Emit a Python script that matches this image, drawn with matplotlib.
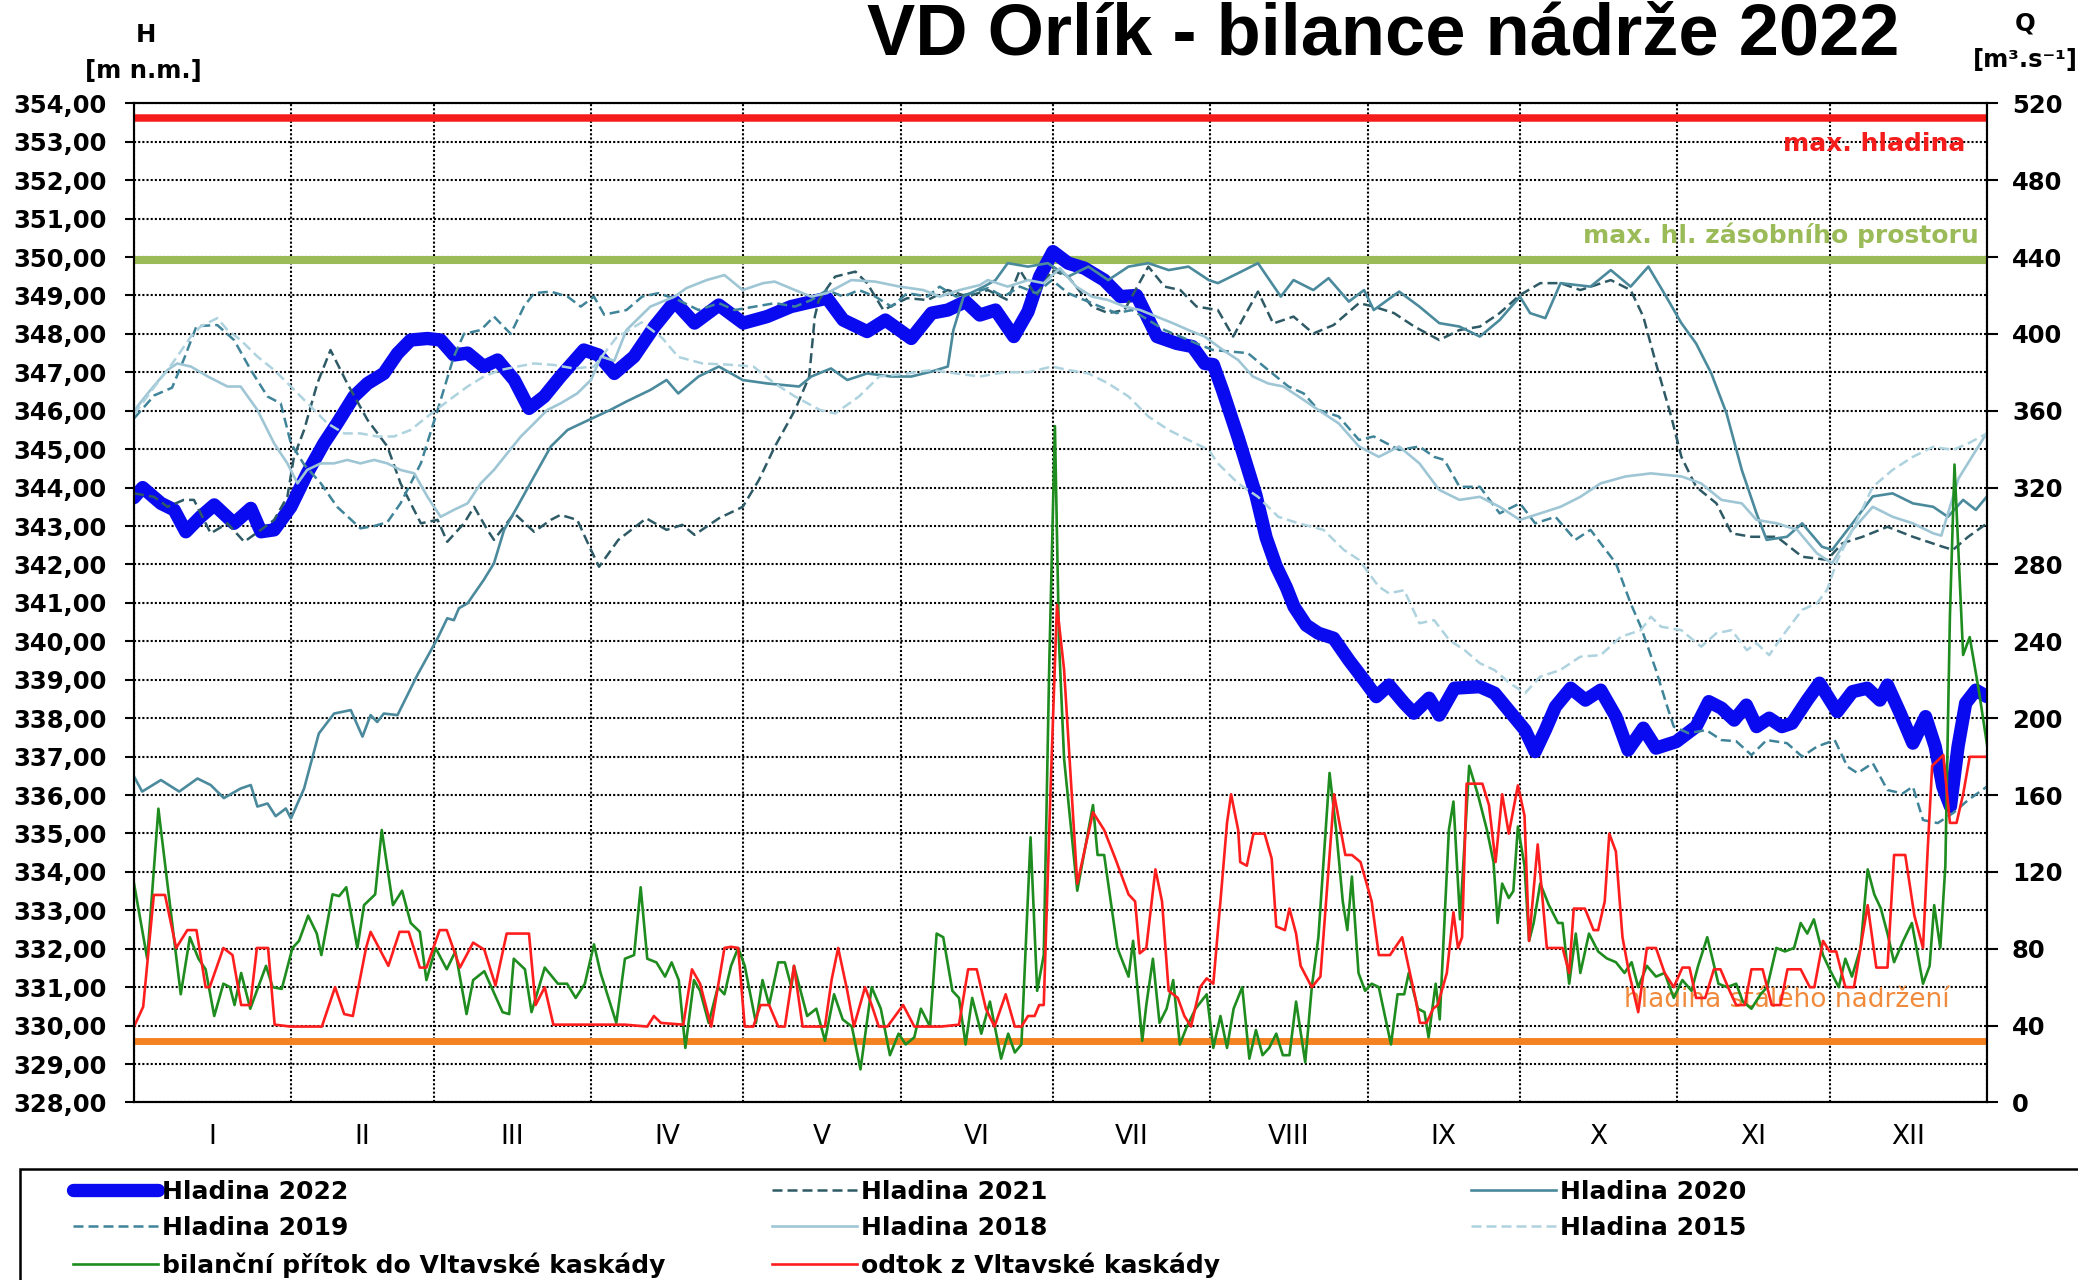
import numpy as np
import matplotlib
matplotlib.use("Agg")
import matplotlib.pyplot as plt
from matplotlib.lines import Line2D
from matplotlib.patches import Rectangle
from matplotlib.ticker import FuncFormatter

# month boundaries (day of year) and roman labels
MONTH_STARTS = [0, 31, 59, 90, 120, 151, 181, 212, 243, 273, 304, 334, 365]
MONTHS = ["I", "II", "III", "IV", "V", "VI", "VII", "VIII", "IX", "X", "XI", "XII"]

# reservoir limits [m n.m.]
MAX_HLADINA = 353.62
MAX_ZASOBNI = 349.93
STALE_NADRZENI = 329.59

# water level, (day of year, H [m n.m.])
H2022 = [(0, 343.74), (1.7, 344.0), (5.3, 343.59), (7.9, 343.42), (10.2, 342.85), (13.1, 343.24),
         (15.8, 343.55), (19.7, 343.07), (23, 343.46), (25, 342.85), (27.6, 342.9), (30.9, 343.5),
         (34.1, 344.37), (37.4, 345.15), (40, 345.67), (43.3, 346.37), (46, 346.71), (49.2, 346.97),
         (51.9, 347.49), (54.5, 347.84), (57.8, 347.88), (60.4, 347.84), (63, 347.45), (65.7, 347.5),
         (68.9, 347.15), (71.6, 347.32), (74.9, 346.8), (77.8, 346.06), (80.8, 346.37), (84, 346.89),
         (88.6, 347.58), (91.5, 347.45), (94.6, 346.97), (98.5, 347.41), (102.5, 348.19), (106.5, 348.84),
         (110.4, 348.28), (115.2, 348.75), (120, 348.28), (124.7, 348.45), (129.4, 348.71), (134.9, 348.88),
         (136.5, 348.93), (139.7, 348.36), (144.4, 348.06), (148, 348.36), (153.1, 347.88), (157.1, 348.54),
         (160.3, 348.62), (163.8, 348.84), (166.6, 348.49), (169.7, 348.62), (173.3, 347.93), (176.1, 348.58),
         (178.4, 349.49), (181, 350.14), (184, 349.84), (187.2, 349.71), (191.1, 349.4), (194.3, 348.97),
         (197.5, 349.0), (201.5, 347.93), (205.4, 347.75), (208.5, 347.67), (210.9, 347.23), (212.6, 347.2),
         (214.5, 346.5), (217.5, 345.3), (221, 343.8), (223, 342.7), (225, 341.95), (227, 341.4),
         (228.5, 340.9), (230.9, 340.42), (233.3, 340.21), (236.3, 340.08), (239.3, 339.51), (242.3, 338.99),
         (244.7, 338.56), (247.2, 338.86), (250.2, 338.39), (252.1, 338.13), (255.1, 338.52), (257.1, 338.08),
         (260.1, 338.78), (265.1, 338.82), (268, 338.65), (271, 338.17), (274, 337.69), (276, 337.13),
         (278, 337.69), (280, 338.3), (283, 338.78), (285.9, 338.47), (288.9, 338.73), (291.9, 338.04),
         (294.3, 337.17), (297.3, 337.74), (299.8, 337.22), (303.8, 337.39), (307.7, 337.78), (310.2, 338.43),
         (312.7, 338.26), (315.2, 337.95), (317.6, 338.34), (319.6, 337.78), (322.1, 338.0), (324.6, 337.78),
         (326.6, 337.87), (329.6, 338.47), (332, 338.91), (335.5, 338.17), (338.5, 338.69), (341.4, 338.78),
         (343.9, 338.47), (345.4, 338.86), (347.9, 338.13), (350.4, 337.35), (352.9, 338.04), (354.8, 337.26),
         (356.3, 336.22), (357.8, 335.7), (359.3, 337.26), (360.8, 338.39), (362.8, 338.73), (365, 338.56)]

H2021 = [(0, 343.85), (3.9, 343.76), (6.6, 343.5), (9.8, 343.68), (11.8, 343.68), (15.1, 342.81),
         (18.4, 343.07), (21.7, 342.59), (25, 342.9), (27.6, 343.16), (30.2, 343.76), (31.5, 344.8),
         (33.5, 345.5), (36.1, 346.71), (38.7, 347.58), (42, 346.71), (46, 345.76), (49.9, 345.07),
         (52.5, 344.11), (56.5, 343.07), (59.8, 343.16), (61.7, 342.59), (65, 343.07), (67, 343.5),
         (69.6, 342.9), (70.9, 342.64), (74.9, 343.33), (78.8, 342.85), (82.1, 343.16), (84, 343.29),
         (87.3, 343.16), (90, 342.38), (91.6, 341.94), (95.4, 342.64), (100.9, 343.2), (104.9, 342.9),
         (108, 343.03), (110.4, 342.77), (115.2, 343.2), (119.9, 343.5), (123.1, 344.2), (126.2, 345.06),
         (130.2, 346.02), (133, 346.89), (134.1, 348.45), (134.9, 348.88), (138.1, 349.49), (142.1, 349.62),
         (144.4, 349.32), (147.6, 348.62), (152.3, 348.93), (156.3, 348.88), (160.3, 349.14), (164.2, 348.97),
         (168.2, 349.14), (172.1, 348.88), (174.5, 349.66), (177.7, 348.97), (180.8, 349.66), (184, 349.49),
         (188.7, 348.71), (191.9, 348.54), (195.1, 348.62), (199.8, 349.75), (203, 349.23), (206.1, 349.14),
         (209.3, 348.71), (213.5, 348.62), (216.5, 347.93), (221.4, 349.1), (224.4, 348.27), (228.4, 348.45),
         (232.3, 348.01), (236.3, 348.23), (241.3, 348.8), (244.2, 348.71), (248.2, 348.54), (252.2, 348.19),
         (257.1, 347.84), (261.1, 348.1), (265.1, 348.19), (269, 348.54), (273, 349.01), (277, 349.32),
         (281, 349.32), (284.9, 349.14), (290.9, 349.4), (294.8, 349.14), (297.3, 348.45), (299.8, 347.23),
         (302.8, 345.85), (304.8, 344.8), (307.7, 344.02), (311.7, 343.59), (314.7, 342.81), (318.6, 342.72),
         (323.6, 342.72), (328.6, 342.2), (333.5, 342.12), (336.5, 342.55), (340.5, 342.72), (345.4, 342.98),
         (350.4, 342.72), (356.3, 342.46), (358.3, 342.38), (361.3, 342.72), (365, 343.07)]

H2020 = [(0, 336.48), (1.6, 336.09), (5.3, 336.39), (8.9, 336.09), (12.5, 336.43), (15.1, 336.26),
         (17.7, 335.92), (21, 336.17), (23, 336.26), (24.3, 335.7), (26.3, 335.78), (27.9, 335.45),
         (29.9, 335.65), (30.9, 335.39), (33.5, 336.17), (36.4, 337.6), (39.4, 338.12), (42.7, 338.21),
         (45, 337.52), (46.6, 338.08), (47.9, 337.9), (49.2, 338.12), (51.9, 338.08), (55.8, 339.12),
         (59.8, 340.08), (61.7, 340.6), (63, 340.55), (64, 340.86), (65.7, 340.99), (68.9, 341.6),
         (70.9, 342.03), (72.9, 342.9), (75.5, 343.5), (78.8, 344.29), (82.1, 345.07), (85.4, 345.5),
         (88.6, 345.7), (93.8, 346.02), (97, 346.24), (101.7, 346.54), (104.9, 346.8), (107.2, 346.45),
         (111.2, 346.89), (115.2, 347.15), (119.9, 346.8), (124.7, 346.71), (131, 346.63), (133.4, 346.89),
         (137.3, 347.1), (140.5, 346.8), (144.4, 346.97), (149.2, 346.89), (153.1, 346.89), (157.1, 347.02),
         (160.3, 347.15), (161.4, 348.1), (163.4, 348.97), (167.4, 349.23), (169.7, 349.4), (172.1, 349.84),
         (176.1, 349.75), (180, 349.84), (184, 349.49), (188, 349.75), (191.9, 349.4), (195.9, 349.75),
         (199.8, 349.84), (203.8, 349.66), (207.7, 349.75), (211.7, 349.4), (213.5, 349.32), (217.5, 349.58),
         (221.4, 349.84), (225.9, 348.97), (228.4, 349.4), (232.3, 349.14), (235.3, 349.45), (239.3, 348.84),
         (242.3, 349.14), (244.2, 348.62), (249.2, 349.1), (253.2, 348.71), (257.1, 348.28), (261.1, 348.19),
         (265.1, 347.93), (269, 348.36), (273, 348.97), (275, 348.54), (278, 348.41), (281, 349.32),
         (286.9, 349.23), (290.9, 349.66), (294.8, 349.23), (298.3, 349.75), (301.8, 348.97), (304.8, 348.28),
         (307.7, 347.75), (310.7, 346.97), (313.7, 345.93), (316.7, 344.46), (319.6, 343.33), (321.6, 342.64),
         (325.6, 342.72), (328.6, 343.07), (332.5, 342.46), (334.5, 342.38), (338.5, 343.07), (342.5, 343.77),
         (346.4, 343.85), (350.4, 343.59), (354.4, 343.5), (357.3, 343.24), (360.3, 343.68), (362.8, 343.42),
         (365, 343.77)]

H2019 = [(0, 345.8), (4, 346.4), (7.5, 346.6), (10, 347.4), (12.3, 348.2), (16.4, 348.23),
         (19.7, 347.84), (23, 347.06), (26.3, 346.37), (28.9, 346.19), (30.9, 345.15), (33.5, 344.6),
         (36.8, 344.11), (40, 343.5), (44.6, 342.94), (47.3, 343.0), (49.9, 343.1), (52.5, 343.59),
         (56.5, 344.63), (59.8, 346.02), (63, 347.41), (65, 348.0), (68.3, 348.1), (70.9, 348.45),
         (74.2, 348.0), (76.8, 348.71), (78.8, 349.06), (82.1, 349.1), (85.4, 348.97), (88, 348.71),
         (90.6, 348.97), (92.6, 348.5), (97, 348.62), (100.1, 348.97), (103.3, 349.06), (107.2, 348.88),
         (111.2, 348.62), (115.2, 348.8), (118.3, 348.62), (122.3, 348.71), (126.3, 348.8), (130.2, 348.71),
         (133.4, 348.88), (136.5, 349.14), (139.7, 348.97), (142.8, 349.14), (146, 348.97), (149.2, 348.71),
         (152.3, 349.06), (156.3, 348.97), (158.7, 349.23), (161.9, 348.97), (165, 349.06), (168.2, 349.19),
         (171.3, 348.97), (174.5, 349.23), (177.7, 349.06), (180.8, 349.4), (184, 349.06), (187.2, 348.88),
         (190.3, 348.71), (193.5, 348.54), (196.6, 348.62), (199.8, 348.36), (203, 348.1), (206.1, 347.93),
         (209.3, 347.75), (212.5, 347.58), (219.4, 347.5), (223.4, 347.06), (227.4, 346.63), (230.4, 346.45),
         (233.3, 346.02), (237.3, 345.85), (241.3, 345.24), (244.2, 345.33), (249.2, 344.98), (253.2, 345.07),
         (256.1, 344.8), (258.1, 344.72), (261.1, 344.02), (265.1, 344.02), (269, 343.33), (273, 343.59),
         (276, 343.07), (280, 343.24), (283.9, 342.64), (286.9, 342.9), (291.9, 342.03), (294.8, 340.99),
         (296.8, 340.38), (299.8, 339.25), (301.8, 338.39), (303.3, 337.78), (306.2, 337.61), (309.7, 337.69),
         (312.7, 337.43), (315.6, 337.4), (318.6, 337.04), (321.6, 337.43), (325.6, 337.35), (328.6, 337.0),
         (331.5, 337.26), (335, 337.43), (337.5, 336.74), (339.5, 336.57), (342.5, 336.83), (345.4, 336.13),
         (348.4, 336.04), (350.4, 336.22), (352.4, 335.35), (355.3, 335.27), (358.3, 335.53), (361.3, 335.87),
         (365, 336.22)]

H2018 = [(0, 346.0), (3, 346.5), (6.6, 347.06), (8.5, 347.23), (11.2, 347.15), (14.4, 346.9),
         (18.4, 346.63), (21, 346.63), (24.3, 346.02), (27.6, 345.15), (30.2, 344.63), (32.2, 344.11),
         (34.1, 344.46), (36.8, 344.63), (39.4, 344.63), (42, 344.72), (44.6, 344.63), (47.3, 344.72),
         (49.9, 344.63), (52.5, 344.46), (55.2, 344.37), (57.8, 343.76), (60.4, 343.24), (63, 343.42),
         (65.7, 343.59), (68.3, 344.11), (70.9, 344.46), (73.5, 344.89), (76.2, 345.33), (78.8, 345.67),
         (81.4, 346.02), (84, 346.19), (87.3, 346.45), (90, 346.8), (92, 347.41), (94.6, 347.3),
         (97, 348.1), (101.7, 348.71), (106.5, 348.97), (108.8, 349.19), (112.8, 349.4), (116.3, 349.53),
         (119.9, 349.14), (123.9, 349.32), (126.2, 349.36), (130.2, 349.14), (133.4, 348.97), (136.5, 349.06),
         (141.3, 349.4), (146, 349.36), (150.8, 349.23), (155.5, 349.14), (158.7, 348.97), (162.6, 349.14),
         (166.6, 349.27), (168.2, 349.4), (172.1, 349.23), (176.1, 349.4), (179.2, 349.32), (182.4, 349.71),
         (185.6, 349.23), (188.7, 348.97), (191.9, 348.88), (195.1, 348.71), (198.2, 348.62), (201.4, 348.45),
         (204.6, 348.28), (207.7, 348.1), (210.9, 347.93), (214.5, 347.58), (217.5, 347.32), (220.4, 346.89),
         (223.4, 346.71), (226.4, 346.63), (229.4, 346.37), (233.3, 346.02), (237.3, 345.67), (241.3, 345.07),
         (245.2, 344.8), (249.2, 345.07), (253.2, 344.63), (257.1, 343.94), (261.1, 343.68), (265.1, 343.76),
         (269, 343.5), (273, 343.16), (277, 343.33), (281, 343.5), (284.9, 343.76), (288.9, 344.11),
         (293.8, 344.29), (298.8, 344.37), (304.8, 344.29), (308.7, 344.11), (312.7, 343.68), (316.7, 343.59),
         (319.6, 343.16), (323.6, 343.07), (327.6, 342.9), (331.5, 342.29), (334.5, 342.03), (338.5, 342.9),
         (342.5, 343.5), (346.4, 343.24), (350.4, 343.07), (354.4, 342.81), (356, 342.75), (359.4, 344.24),
         (365, 345.43)]

H2015 = [(0, 345.9), (3.9, 346.6), (6.6, 347.06), (8.5, 347.41), (11.2, 347.93), (13.1, 348.19),
         (16.4, 348.41), (18.4, 348.1), (21, 347.84), (24.3, 347.41), (27.6, 347.06), (30.9, 346.63),
         (34.8, 346.11), (38.1, 345.67), (41.4, 345.41), (44.6, 345.41), (47.9, 345.33), (51.2, 345.33),
         (54.5, 345.5), (57.8, 345.85), (60.4, 346.11), (63, 346.37), (65.7, 346.63), (68.9, 346.89),
         (72.2, 347.06), (75.5, 347.15), (78.8, 347.23), (82.7, 347.19), (86.7, 347.1), (90.6, 347.15),
         (95, 347.9), (100, 348.3), (104, 347.9), (107.2, 347.4), (112, 347.23), (117, 347.2),
         (122, 347.15), (126.2, 346.71), (130.2, 346.37), (135.1, 346.02), (138.1, 345.93), (142.8, 346.37),
         (146.8, 346.89), (152.3, 346.97), (157.1, 347.06), (161.9, 346.97), (166.6, 346.89), (171.3, 347.0),
         (176.1, 347.0), (180.8, 347.15), (184, 347.06), (188, 346.97), (191.9, 346.71), (195.9, 346.37),
         (199.8, 345.85), (203.8, 345.5), (207.7, 345.24), (211.7, 344.98), (213.5, 344.63), (217.5, 344.11),
         (221.4, 343.76), (225.4, 343.24), (229.4, 343.07), (234.3, 342.9), (238.3, 342.38), (241.3, 342.12),
         (245.2, 341.42), (247.2, 341.25), (250.2, 341.33), (253.2, 340.47), (256.1, 340.55), (259.1, 340.03),
         (262.1, 339.77), (265.1, 339.43), (268, 339.25), (271, 338.91), (274, 338.65), (277, 339.08),
         (280.9, 339.25), (284.9, 339.6), (288.9, 339.64), (292.9, 340.12), (296.8, 340.29), (298.8, 340.64),
         (300.8, 340.38), (304.8, 340.29), (308.7, 339.86), (311.7, 340.21), (314.7, 340.29), (317.7, 339.77),
         (319.6, 339.95), (322.1, 339.64), (324.6, 340.12), (328.6, 340.82), (331.5, 340.99), (333.5, 341.34),
         (335.5, 342.1), (338.5, 342.9), (342.5, 344.02), (346.4, 344.46), (350.4, 344.8), (354.4, 345.06),
         (358.3, 344.98), (361.3, 345.15), (365, 345.41)]

# flows, (day of year, Q [m3/s])
PRITOK = [(0, 113.9), (2.6, 74.8), (4.8, 152.9), (7, 104.6), (9.2, 56.3), (11, 86), (12.7, 74.8),
          (14.1, 69.3), (15.8, 45), (17.6, 61.8), (18.9, 60), (19.8, 50.7), (21.1, 67.4), (22.9, 48.8),
          (26, 71.1), (27.3, 60), (29.1, 59.1), (31.2, 80.4), (32.5, 84.1), (34.3, 97.2), (36, 87.9),
          (36.9, 76.7), (39.1, 108.3), (40.4, 107.4), (41.8, 112), (44, 80.4), (45.3, 102.7), (47.5, 108.3),
          (48.8, 141.8), (51, 102.7), (52.8, 110.2), (54.5, 93.4), (56.3, 88.8), (57.6, 63.7), (59.4, 80.4),
          (61.6, 69.3), (63.3, 78.6), (65.5, 46), (66.8, 63.7), (69, 68.3), (70.4, 60), (72.6, 47),
          (73.9, 46), (74.8, 74.8), (77, 69.3), (78.3, 47), (80.9, 70.2), (83.5, 61.8), (85.3, 61.8),
          (87, 54.4), (88.8, 61.8), (90.6, 82.3), (91.9, 67.4), (95, 41.4), (96.7, 74.8), (98.5, 76.7),
          (99.8, 112), (101.1, 74.8), (102.9, 72.9), (104.6, 65.5), (105.9, 72.9), (107.3, 63.7),
          (108.6, 28.4), (110.3, 63.7), (111.5, 58.1), (113.2, 41.4), (115, 60), (116.3, 56.3),
          (117.6, 71.1), (119, 80.4), (120.3, 71.1), (122.5, 41.4), (123.8, 63.7), (125.1, 50.7),
          (126.9, 72.9), (128.2, 72.9), (129.5, 60), (130, 71.1), (131.3, 58.1), (132.6, 45), (134.4, 48.8),
          (136.1, 32.1), (137.9, 56.3), (139.6, 43.2), (141.4, 39.5), (143.1, 17.2), (145.3, 60),
          (147.1, 48.8), (148.9, 24.6), (150.6, 35.8), (152, 30.2), (153.7, 33.9), (155, 48.8),
          (156.8, 39.5), (158.1, 87.9), (159.4, 86), (161.2, 58.1), (162.5, 54.4), (163.8, 30.2),
          (165.1, 54.4), (166.9, 35.8), (168.6, 52.5), (170.8, 22.8), (172.2, 35.8), (173.5, 26),
          (174.8, 30.2), (176.6, 138), (177.9, 58.1), (179.2, 76.7), (180.3, 230), (181.4, 352),
          (182.2, 240), (183.2, 179), (185.8, 110.2), (188.9, 154.8), (189.8, 128.8), (191.1, 128.8),
          (193.7, 80.4), (195.9, 65.5), (196.8, 84.1), (198.6, 32.1), (199.4, 50.7), (200.7, 74.8),
          (202, 41.4), (203.4, 48.8), (204.7, 63.7), (206, 30.2), (207.4, 39.5), (209.1, 48.8),
          (211.3, 56.3), (212.6, 28.4), (214, 45), (215.3, 28.4), (216.6, 48.8), (218.3, 60),
          (219.7, 22.8), (221, 37.7), (222.3, 24.6), (223.6, 28.4), (225, 35.8), (226.3, 24.6),
          (227.6, 24.6), (228.9, 52.5), (230.7, 20.9), (232, 60), (233.3, 86), (235.5, 171.5),
          (236.8, 141.8), (238.1, 104.6), (239, 89.7), (239.9, 117.6), (241.2, 67.4), (242.5, 58.1),
          (243.8, 61.8), (245.2, 60), (247.6, 30.2), (248.9, 56.3), (250.2, 56.3), (251.1, 67.4),
          (252.9, 48.8), (254.2, 47), (255, 33.9), (256.4, 61.8), (257.2, 43.2), (259, 141.8),
          (259.9, 156.6), (261.2, 95.3), (263, 175.2), (264.7, 160.4), (266.5, 141.8), (267.8, 125.1),
          (268.6, 93.4), (269.5, 113.9), (270.8, 106.4), (271.7, 110), (272.6, 143.6), (273.9, 123.2),
          (274.8, 84.1), (275.7, 93.4), (277, 113.9), (278.7, 102.7), (280.5, 93.4), (281.4, 93.4),
          (282.7, 61.8), (284, 87.9), (284.9, 67.4), (286.6, 87.9), (288.4, 78.6), (290.1, 75),
          (291.9, 73), (293.6, 67.4), (295, 73), (296.3, 60), (298, 71.1), (299.8, 65.5), (301.5, 67.4),
          (303.3, 54.4), (305, 63.7), (306.8, 58.1), (308.1, 71.1), (309.9, 86), (312.1, 61.8),
          (313.8, 60), (315.6, 61.8), (316.9, 52.5), (318.6, 48.8), (320.4, 56.3), (321.7, 60),
          (323.5, 80.4), (325.2, 78.6), (327, 80.4), (328.3, 93.4), (329.6, 87.9), (330.9, 95.3),
          (332.7, 76.7), (334, 69.3), (335.8, 60), (337.1, 74.8), (338.4, 65.5), (340.1, 80.4),
          (341.5, 121.3), (342.8, 108.3), (344.1, 100.9), (345.4, 87.9), (346.7, 73), (348.5, 84.1),
          (350.2, 93.4), (352.4, 61.8), (353.7, 71.1), (354.6, 102.7), (355.8, 80.4), (356.8, 123.2),
          (357.7, 253.3), (358.6, 332), (360.3, 232.9), (361.6, 242.2), (363.4, 214.3), (365, 186.4)]

ODTOK = [(0, 39.5), (1.8, 49.8), (3.9, 108), (6.1, 108), (8.3, 80.4), (10.5, 89.7), (12.3, 89.7),
         (14.1, 60), (14.9, 60), (17.6, 80.4), (19.4, 76.7), (21.1, 50.7), (22.9, 50.7), (24.2, 80.4),
         (26.4, 80.4), (27.7, 40.5), (30.8, 39.5), (37, 39.5), (39.6, 60), (41.4, 46), (43.1, 45),
         (45.7, 80.4), (46.6, 88.8), (50.1, 71.1), (52.3, 88.8), (54.1, 88.8), (56.3, 70.2), (57.6, 70.2),
         (60.2, 89.7), (61.6, 89.7), (64.2, 70.2), (66.8, 83.2), (69, 79.5), (71.2, 60.9), (73.4, 87.9),
         (77.8, 87.9), (79.1, 50.7), (80.9, 60), (82.6, 40.5), (87.9, 40.5), (96.7, 40.5), (101.1, 39.5),
         (102.4, 45), (103.8, 41.4), (108.2, 40.5), (109.9, 69.3), (111.5, 61.8), (113.7, 39.5),
         (115, 60), (116.3, 80.4), (117.6, 81), (119, 80.4), (120.3, 39.5), (122, 39.5), (123.4, 50.7),
         (125.1, 50.7), (126.9, 39.5), (128.2, 39.5), (130, 71.1), (131.7, 39.5), (136.1, 39.5),
         (137.4, 63.7), (138.7, 80.4), (140.5, 58.1), (141.8, 39.5), (144, 60), (145.3, 50.7),
         (146.7, 39.5), (148.4, 39.5), (151.5, 50.7), (153.7, 39.5), (159, 39.5), (162.5, 40.5),
         (164.3, 69.3), (166, 69.3), (167.8, 48.8), (169.5, 39.5), (171.7, 56.3), (173.5, 39.5),
         (174.8, 39.5), (176.1, 45), (177.4, 45), (178.3, 50.7), (179.2, 50.7), (180.5, 160),
         (181.8, 258.9), (183.2, 225.4), (185.8, 113.9), (188.9, 151), (191.1, 141.8), (193.3, 126.9),
         (195.9, 108.3), (197.2, 104.6), (198.1, 77.6), (199.4, 80.4), (201.2, 121.3), (202.5, 104.6),
         (203.8, 58.1), (205.6, 54.4), (206.9, 45), (208.2, 39.5), (210, 60), (211.3, 64.6),
         (212.6, 61.8), (214, 104.6), (215.3, 145.5), (216.1, 160.4), (217.5, 141.8), (217.9, 125.1),
         (219.2, 123.2), (220.5, 139.9), (222.7, 139.9), (224.1, 126.9), (225, 91.6), (226.7, 89.7),
         (227.6, 100.9), (228.9, 87.9), (229.8, 71.1), (232, 60), (233.7, 65.5), (236.4, 160.4),
         (238.6, 128.8), (239.9, 128.8), (241.6, 125.1), (243.8, 104.6), (245.2, 76.7), (247.4, 76.7),
         (249.8, 86), (250.7, 75), (252.4, 54.4), (253.3, 41.4), (254.6, 41.4), (255.9, 48.8),
         (256.8, 50.7), (258.6, 67.4), (259.9, 99), (260.8, 80.4), (261.6, 86), (262.5, 165.9),
         (265.6, 165.9), (266.9, 154.8), (268.2, 125.1), (269.5, 160.4), (270.8, 139.9), (272.6, 165),
         (273.9, 149.2), (274.8, 84.1), (276.5, 134.3), (278.3, 80.4), (281.4, 80.4), (282.7, 67.4),
         (283.6, 100.9), (285.8, 100.9), (287.5, 89.7), (288.4, 89.7), (289.7, 104.6), (290.6, 139.9),
         (291.9, 130.6), (293.2, 86), (294.5, 67.4), (296.3, 47), (298, 80.4), (299.8, 80.4),
         (301.5, 67.4), (303.3, 60), (305, 70.2), (306.4, 70.2), (307.7, 54.4), (309.5, 54.4),
         (311.2, 69.3), (312.5, 69.3), (314.3, 58.1), (315.6, 50.7), (317.3, 50.7), (318.6, 69.3),
         (320.8, 69.3), (322.6, 50.7), (324.3, 50.7), (325.7, 69.3), (328.3, 69.3), (330.1, 60),
         (331, 60), (332.7, 84.1), (334, 78.6), (335.3, 78.6), (337.1, 60), (338.8, 60), (341.5, 102.7),
         (343.2, 70.2), (345.4, 70.2), (346.7, 128.8), (348.9, 128.8), (350.7, 97.2), (352.4, 80.4),
         (353.3, 130.6), (354.2, 175.2), (356.4, 180.8), (357.7, 145.5), (359, 145.5), (360.3, 160.4),
         (361.6, 179.9), (365, 179.9)]


def xy(pairs):
    a = np.array(pairs, dtype=float)
    return a[:, 0], a[:, 1]


plt.rcParams['font.family'] = ['DejaVu Sans']
plt.rcParams['font.weight'] = 'bold'
plt.rcParams['font.size'] = 17.5

fig = plt.figure(figsize=(20.78, 12.8), dpi=100)
ax = fig.add_axes([0.0645, 0.1387, 0.8917, 0.7806])
ax.set_xlim(0, 365)
ax.set_ylim(328, 354)
ax2 = ax.twinx()
ax2.set_ylim(0, 520)

# limit levels
ax.axhline(MAX_HLADINA, color='#F51C1C', lw=5.4, zorder=1.2)
ax.axhline(MAX_ZASOBNI, color='#9BBB59', lw=5.8, zorder=1.2)
ax.axhline(STALE_NADRZENI, color='#F58220', lw=5.0, zorder=1.2)
ax.text(0.9884, 0.9523, 'max. hladina', transform=ax.transAxes, ha='right', va='baseline',
        color='#F51C1C', fontsize=18, zorder=1.5)
ax.text(0.9957, 0.8602, 'max. hl. zásobního prostoru', transform=ax.transAxes, ha='right',
        va='baseline', color='#9BBB59', fontsize=18, zorder=1.5)
ax.text(0.98, 0.0958, 'hladina stálého nadržení', transform=ax.transAxes, ha='right',
        va='baseline', color='#F08A3C', fontsize=19, fontweight='normal', zorder=1.5)

# levels
BLUE_LW = 9.6
l22, = ax.plot(*xy(H2022), color='#0A0AF0', lw=BLUE_LW, solid_joinstyle='round',
               solid_capstyle='round', zorder=2, label='Hladina 2022')
dash = (0, (4, 2))
l21, = ax.plot(*xy(H2021), color='#2E5A66', lw=1.8, ls=dash, zorder=3, label='Hladina 2021')
l20, = ax.plot(*xy(H2020), color='#4A8A9C', lw=1.9, zorder=3, label='Hladina 2020')
l19, = ax.plot(*xy(H2019), color='#3F8499', lw=1.8, ls=dash, zorder=3, label='Hladina 2019')
l18, = ax.plot(*xy(H2018), color='#9FC6D5', lw=1.9, zorder=3, label='Hladina 2018')
l15, = ax.plot(*xy(H2015), color='#AED3DF', lw=1.8, ls=dash, zorder=3, label='Hladina 2015')

# flows
lin, = ax2.plot(*xy(PRITOK), color='#1E8C1E', lw=1.9, label='bilanční přítok do Vltavské kaskády')
lout, = ax2.plot(*xy(ODTOK), color='#FF1E1E', lw=1.9, label='odtok z Vltavské kaskády')

# axes styling
ax.set_yticks(np.arange(328, 355, 1))
ax.yaxis.set_major_formatter(FuncFormatter(lambda v, p: f'{v:.2f}'.replace('.', ',')))
ax.tick_params(axis='y', direction='out', length=6.5, width=1.5, pad=13)
ax2.set_yticks(np.arange(0, 521, 40))
ax2.tick_params(axis='y', direction='out', length=8, width=1.5, pad=10)

ax.set_xticks(MONTH_STARTS)
ax.set_xticklabels([])
ax.tick_params(axis='x', which='major', length=0)
mids = [(a + b) / 2 for a, b in zip(MONTH_STARTS[:-1], MONTH_STARTS[1:])]
ax.set_xticks(mids, minor=True)
ax.set_xticklabels(MONTHS, minor=True, fontweight='normal', fontsize=19)
ax.tick_params(axis='x', which='minor', length=0, pad=15.5)

ax.grid(True, which='major', color='black', ls=(0, (1, 1)), lw=1.5)
ax.set_axisbelow(True)
for a in (ax, ax2):
    for s in a.spines.values():
        s.set_linewidth(1.5)

# header texts
fig.text(0.6656, 0.9578, 'VD Orlík - bilance nádrže 2022', ha='center', va='baseline',
         fontsize=52, fontweight='bold', family='Liberation Sans')
fig.text(0.0703, 0.9672, 'H', ha='center', va='baseline')
fig.text(0.0688, 0.9391, '[m n.m.]', ha='center', va='baseline')
fig.text(0.9745, 0.9758, 'Q', ha='center', va='baseline')
fig.text(0.9745, 0.9477, '[m³.s⁻¹]', ha='center', va='baseline')

# legend: box + three columns
fig.add_artist(Rectangle((0.0096, -0.2), 1.5, 0.2867, transform=fig.transFigure, fill=False,
                         ec='black', lw=1.8, clip_on=False))
blue_proxy = Line2D([], [], color='#0A0AF0', lw=BLUE_LW, solid_capstyle='round',
                    label='Hladina 2022')
columns = [([blue_proxy, l19, lin], 0.0351), ([l21, l18, lout], 0.3715), ([l20, l15], 0.7079)]
for handles, x0 in columns:
    fig.legend(handles=handles, loc='upper left', bbox_to_anchor=(x0, 0.0785), frameon=False,
               handlelength=3.4, handletextpad=0.15, labelspacing=0.5, borderpad=0,
               borderaxespad=0, prop={'weight': 'bold', 'size': 18})

fig.savefig('out.png', dpi=100)
